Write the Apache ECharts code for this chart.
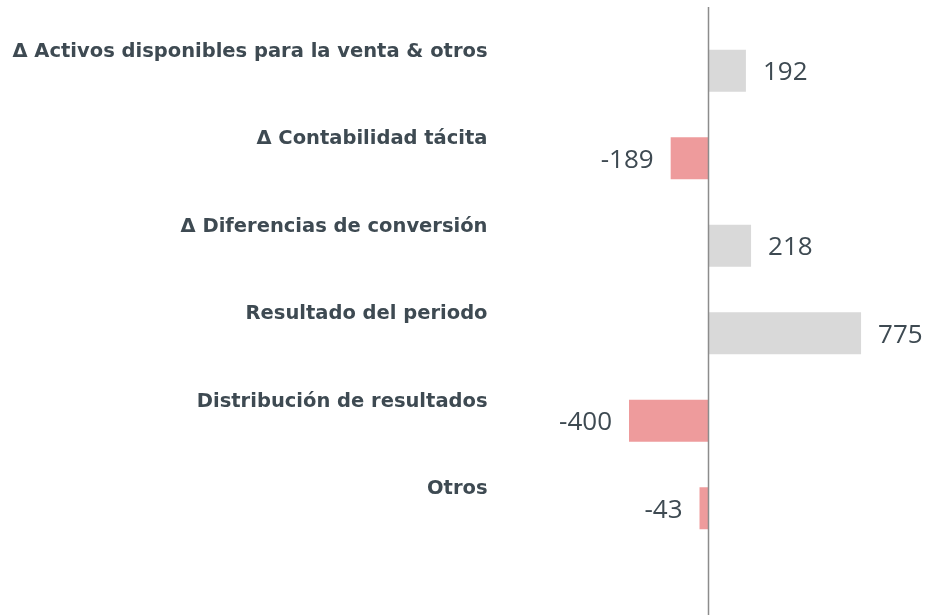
<!DOCTYPE html>
<html>
<head>
<meta charset="utf-8">
<script src="https://cdn.jsdelivr.net/npm/echarts@6/dist/echarts.min.js"></script>
<style>
html, body { margin: 0; padding: 0; background: #fff; }
#chart { width: 925px; height: 615px; }
</style>
</head>
<body>
<div id="chart"></div>
<script>
// categorias y valores (top -> bottom)
const categories = [
  'Δ Activos disponibles para la venta & otros',
  'Δ Contabilidad tácita',
  'Δ Diferencias de conversión',
  'Resultado del periodo',
  'Distribución de resultados',
  'Otros'
];
const values = [192, -189, 218, 775, -400, -43];

const textColor = '#3e4a52';
const posColor = '#d9d9d9';
const negColor = '#ee9b9c';

const chart = echarts.init(document.getElementById('chart'));

const option = {
  animation: false,
  grid: { left: 510.5, right: 19.5, top: 27, bottom: 63 },
  xAxis: {
    type: 'value',
    min: -1000,
    max: 1000,
    show: false
  },
  yAxis: {
    type: 'category',
    inverse: true,
    data: categories,
    axisLine: { show: false },
    axisTick: { show: false },
    splitLine: { show: false },
    axisLabel: {
      margin: 23,
      color: textColor,
      fontFamily: 'DejaVu Sans',
      fontWeight: 'bold',
      fontSize: 19.5,
      verticalAlign: 'bottom',
      lineHeight: 38
    }
  },
  series: [{
    type: 'bar',
    barWidth: 42,
    data: values.map(v => ({
      value: v,
      itemStyle: { color: v < 0 ? negColor : posColor },
      label: { position: v < 0 ? 'left' : 'right' }
    })),
    label: {
      show: true,
      distance: 17,
      color: textColor,
      fontFamily: 'Open Sans',
      fontSize: 26,
      offset: [0, 2]
    }
  }]
};
chart.setOption(option);

// eje vertical en cero, más largo que la rejilla
const x0 = Math.round(chart.convertToPixel({ xAxisIndex: 0 }, 0)) + 0.5;
chart.setOption({
  graphic: [{
    type: 'line',
    shape: { x1: x0, y1: 7, x2: x0, y2: 615 },
    style: { stroke: '#8c8c8c', lineWidth: 1.5 },
    z: 10
  }]
});
</script>
</body>
</html>
